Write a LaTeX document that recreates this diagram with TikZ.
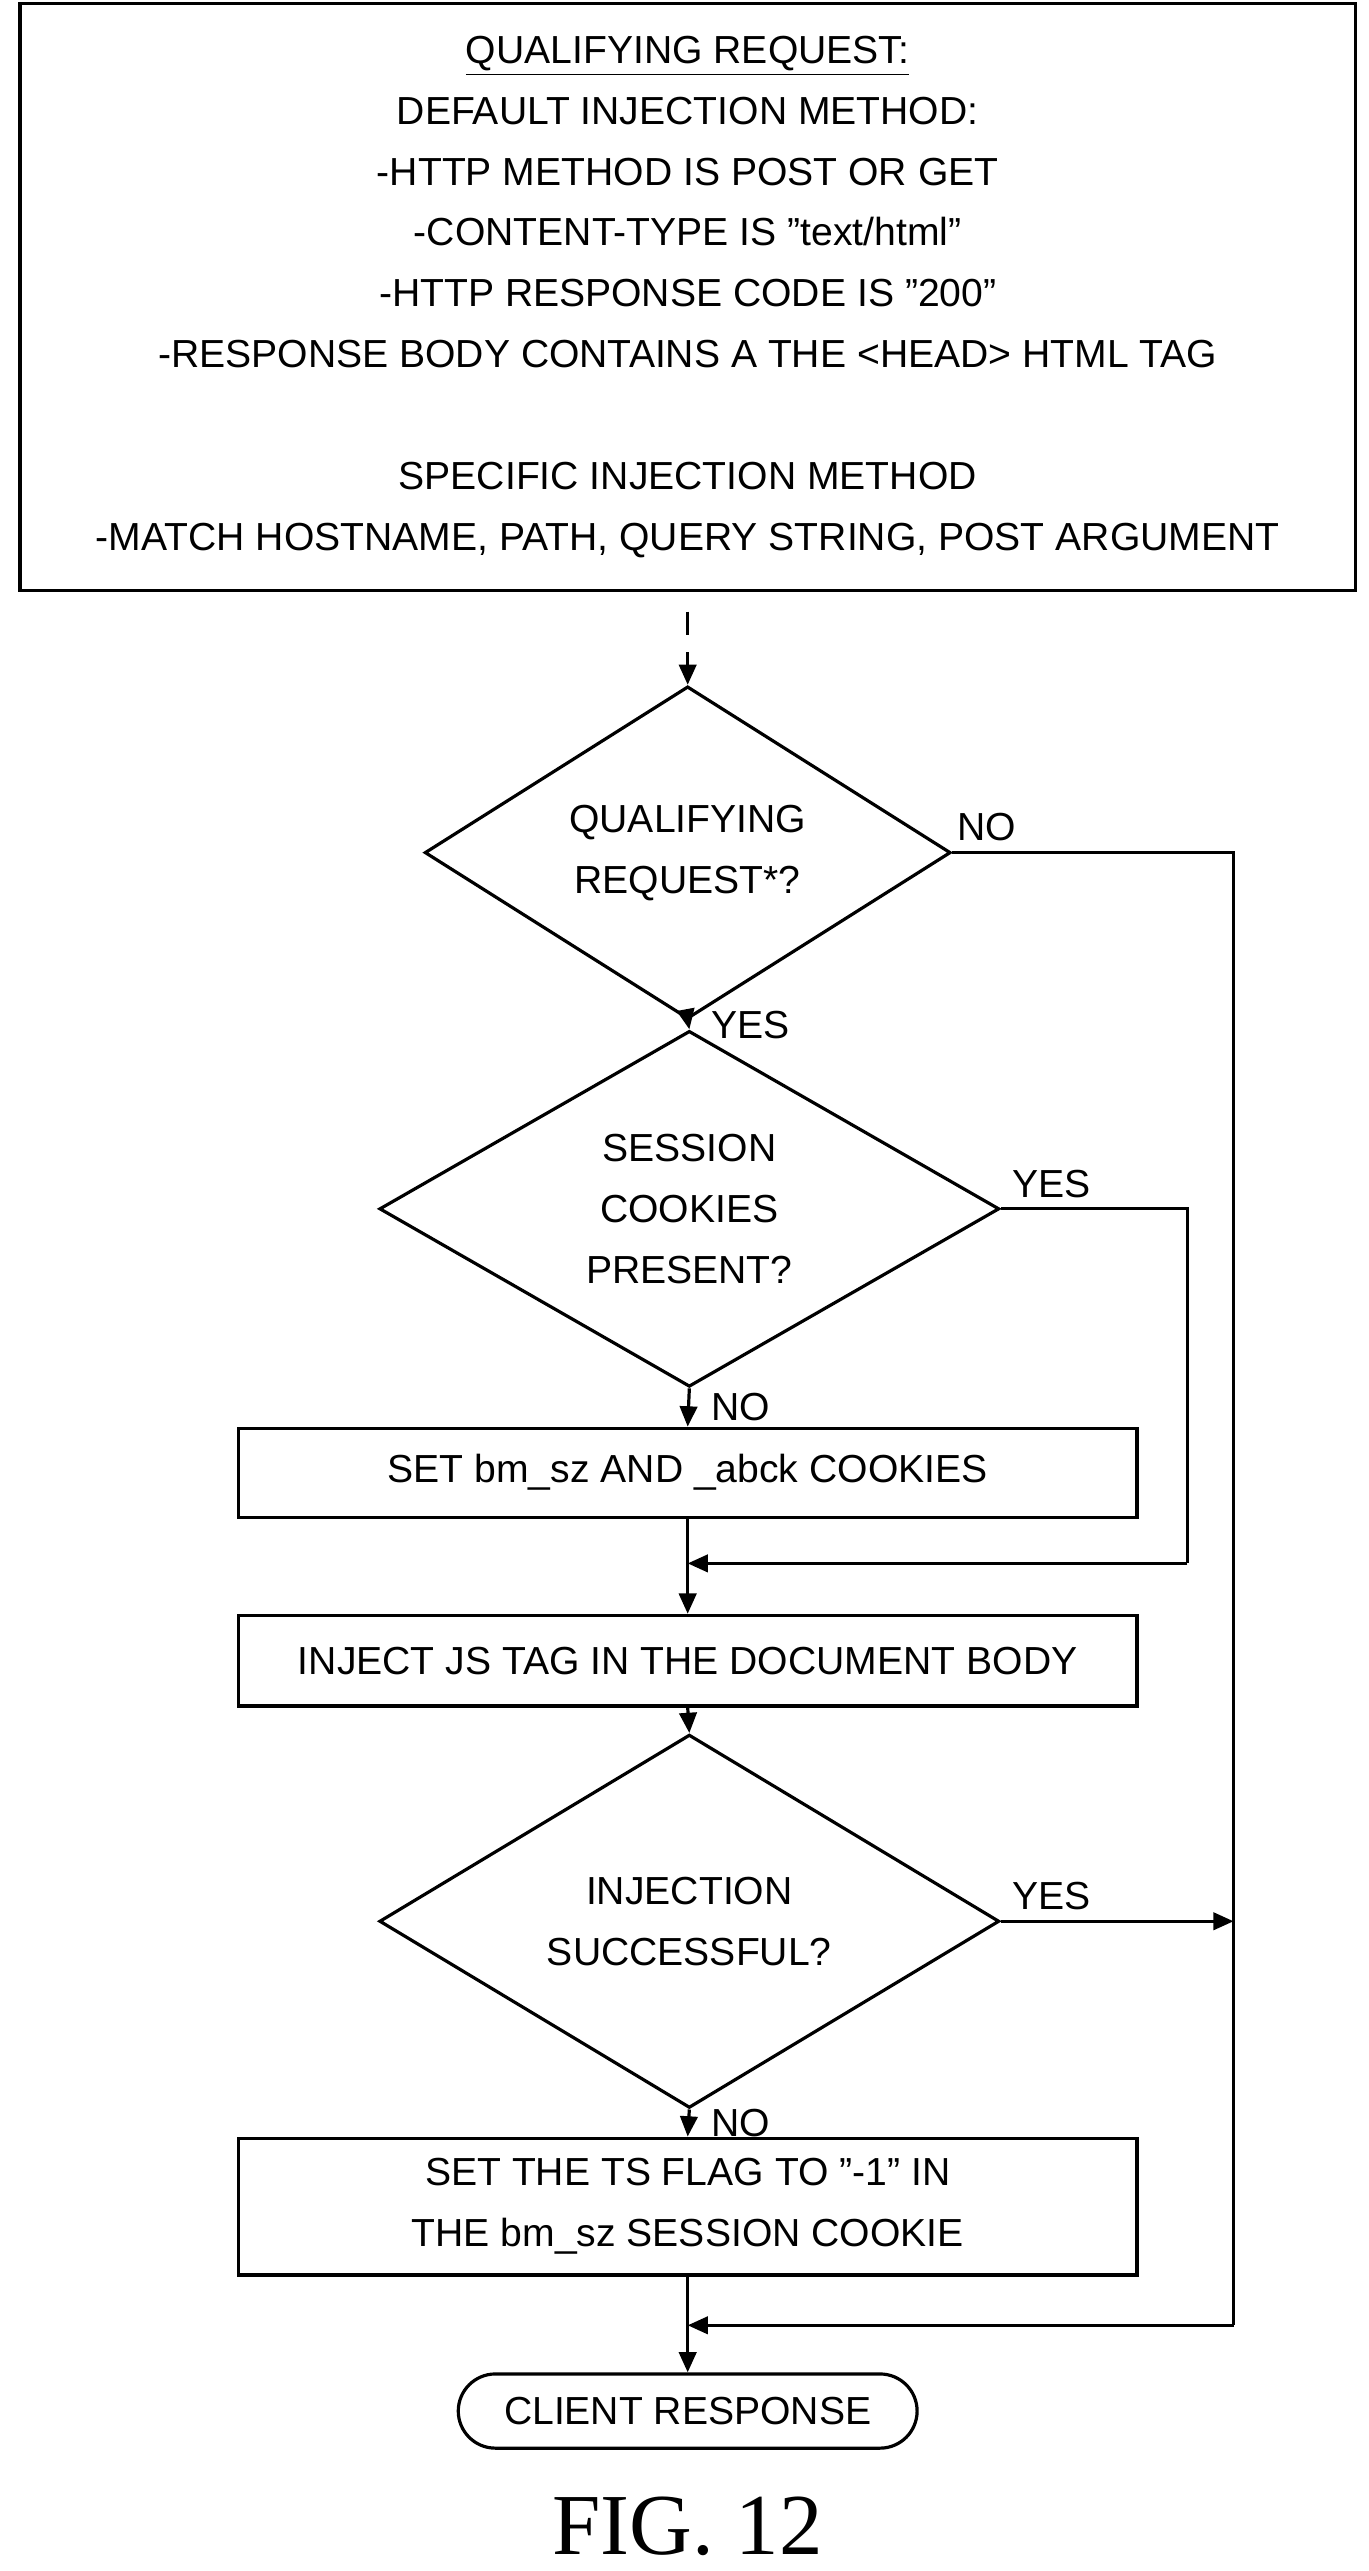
\documentclass[tikz,border=0pt]{standalone}
\usepackage{fontspec}
\setmainfont{Liberation Sans}
\newfontfamily\figfont{Liberation Serif}
\usetikzlibrary{shapes.geometric,shapes.misc,arrows.meta}
\begin{document}
\begin{tikzpicture}[x=0.02cm,y=-0.02cm,
  font=\fontsize{13.5}{21}\selectfont,
  >={Triangle[length=7pt,width=6pt]},
  every path/.style={line width=1.1pt},
  box/.style={draw,rectangle,minimum width=10.9cm,inner sep=0pt,align=center},
  dec/.style={draw,diamond,inner sep=0pt,align=center},
  term/.style={draw,rounded rectangle,minimum width=5.8cm,minimum height=0.9cm}]
\useasboundingbox (0,0) rectangle (830,1559);
\node[draw,rectangle,minimum width=16.2cm,minimum height=7.12cm,align=center] (req) at (417,180)
  {\underline{QUALIFYING REQUEST:}\\DEFAULT INJECTION METHOD:\\-HTTP METHOD IS POST OR GET\\
   -CONTENT-TYPE IS "text/html"\\-HTTP RESPONSE CODE IS "200"\\
   -RESPONSE BODY CONTAINS A THE <HEAD> HTML TAG\\[21pt]
   SPECIFIC INJECTION METHOD\\-MATCH HOSTNAME, PATH, QUERY STRING, POST ARGUMENT};
\node[dec,minimum width=6.38cm,minimum height=3.46cm] (qual) at (417,517) {QUALIFYING\\REQUEST*?};
\node[dec,minimum width=7.52cm,minimum height=3.46cm] (sess) at (418,733) {SESSION\\COOKIES\\PRESENT?};
\node[box,minimum height=1.08cm] (set) at (417,893) {SET bm\_sz AND \_abck COOKIES};
\node[box,minimum height=1.1cm] (inj) at (417,1007) {INJECT JS TAG IN THE DOCUMENT BODY};
\node[dec,minimum width=7.52cm,minimum height=3.4cm] (succ) at (418,1165) {INJECTION\\SUCCESSFUL?};
\node[box,minimum height=1.66cm] (flag) at (417,1338) {SET THE TS FLAG TO "-1" IN\\THE bm\_sz SESSION COOKIE};
\node[term] (resp) at (417,1462) {CLIENT RESPONSE};
\node[font=\figfont\fontsize{30}{30}\selectfont] (fig) at (417,1532) {FIG. 12};
\coordinate (m1) at (417,948);
\coordinate (m2) at (417,1410);
\draw[->,dashed,dash pattern=on 8pt off 6pt] (req.south) ++(0,12) -- (qual.north);
\draw[->] (qual.south) -- node[right,xshift=4pt] {YES} (sess.north);
\draw[->] (sess.south) -- node[right,xshift=4pt] {NO} (set.north);
\draw[->] (set.south) -- (inj.north);
\draw[->] (inj.south) -- (succ.north);
\draw[->] (succ.south) -- node[right,xshift=4pt] {NO} (flag.north);
\draw[->] (flag.south) -- (resp.north);
\draw (qual.east) node[above right,xshift=-2pt] {NO} -- (748,517) -- (748,1410);
\draw[->] (748,1410) -- (m2);
\draw (sess.east) node[above right] {YES} -- (720,733) -- (720,948);
\draw[->] (720,948) -- (m1);
\draw[->] (succ.east) node[above right] {YES} -- (748,1165);
\end{tikzpicture}
\end{document}
